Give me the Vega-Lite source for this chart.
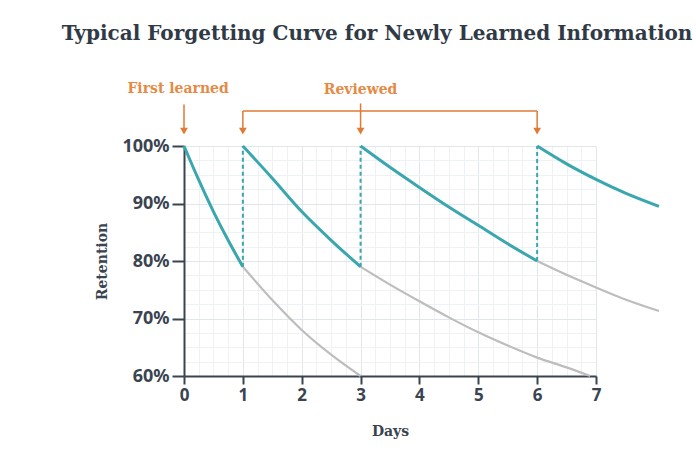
{
  "$schema": "https://vega.github.io/schema/vega-lite/v6.json",
  "width": 412,
  "height": 230,
  "autosize": {"type": "none"},
  "padding": {"left": 184, "top": 146, "right": 100, "bottom": 81},
  "background": "#ffffff",
  "title": {
    "text": "Typical Forgetting Curve for Newly Learned Information",
    "font": "DejaVu Serif",
    "fontSize": 20,
    "fontWeight": "bold",
    "color": "#303a47",
    "anchor": "middle",
    "frame": "group",
    "dx": -13,
    "offset": 38
  },
  "config": {
    "view": {"stroke": null},
    "axis": {"labelFont": "Noto Sans", "titleFont": "DejaVu Serif", "labelFlush": false}
  },
  "datasets": {
    "curves": [
      {"seg": "A", "kind": "teal", "t": 0, "r": 100},
      {"seg": "A", "kind": "teal", "t": 0.25, "r": 94.1},
      {"seg": "A", "kind": "teal", "t": 0.5, "r": 88.6},
      {"seg": "A", "kind": "teal", "t": 0.75, "r": 83.6},
      {"seg": "A", "kind": "teal", "t": 1, "r": 79},
      {"seg": "GA", "kind": "grey", "t": 1, "r": 79},
      {"seg": "GA", "kind": "grey", "t": 1.5, "r": 73.2},
      {"seg": "GA", "kind": "grey", "t": 2, "r": 68},
      {"seg": "GA", "kind": "grey", "t": 2.5, "r": 63.7},
      {"seg": "GA", "kind": "grey", "t": 3, "r": 60},
      {"seg": "B", "kind": "teal", "t": 1, "r": 100},
      {"seg": "B", "kind": "teal", "t": 1.5, "r": 94.4},
      {"seg": "B", "kind": "teal", "t": 2, "r": 88.6},
      {"seg": "B", "kind": "teal", "t": 2.5, "r": 83.6},
      {"seg": "B", "kind": "teal", "t": 3, "r": 79},
      {"seg": "GB", "kind": "grey", "t": 3, "r": 79},
      {"seg": "GB", "kind": "grey", "t": 3.5, "r": 75.9},
      {"seg": "GB", "kind": "grey", "t": 4, "r": 73},
      {"seg": "GB", "kind": "grey", "t": 4.5, "r": 70.2},
      {"seg": "GB", "kind": "grey", "t": 5, "r": 67.6},
      {"seg": "GB", "kind": "grey", "t": 5.5, "r": 65.3},
      {"seg": "GB", "kind": "grey", "t": 6, "r": 63.2},
      {"seg": "GB", "kind": "grey", "t": 6.5, "r": 61.5},
      {"seg": "GB", "kind": "grey", "t": 6.9, "r": 60},
      {"seg": "C", "kind": "teal", "t": 3, "r": 100},
      {"seg": "C", "kind": "teal", "t": 3.5, "r": 96.3},
      {"seg": "C", "kind": "teal", "t": 4, "r": 92.8},
      {"seg": "C", "kind": "teal", "t": 4.5, "r": 89.4},
      {"seg": "C", "kind": "teal", "t": 5, "r": 86.2},
      {"seg": "C", "kind": "teal", "t": 5.5, "r": 83.0},
      {"seg": "C", "kind": "teal", "t": 6, "r": 80},
      {"seg": "GC", "kind": "grey", "t": 6, "r": 80},
      {"seg": "GC", "kind": "grey", "t": 6.5, "r": 77.6},
      {"seg": "GC", "kind": "grey", "t": 7, "r": 75.4},
      {"seg": "GC", "kind": "grey", "t": 7.5, "r": 73.3},
      {"seg": "GC", "kind": "grey", "t": 8.07, "r": 71.3},
      {"seg": "D", "kind": "teal", "t": 6, "r": 100},
      {"seg": "D", "kind": "teal", "t": 6.5, "r": 96.9},
      {"seg": "D", "kind": "teal", "t": 7, "r": 94.2},
      {"seg": "D", "kind": "teal", "t": 7.5, "r": 91.8},
      {"seg": "D", "kind": "teal", "t": 8.07, "r": 89.5}
    ],
    "dashes": [
      {"t": 1, "r": 79, "r2": 100},
      {"t": 3, "r": 79, "r2": 100},
      {"t": 6, "r": 80, "r2": 100}
    ],
    "shafts": [
      {"t": 0, "r": 102.6, "r2": 107.2},
      {"t": 1, "r": 102.6, "r2": 106.1},
      {"t": 3, "r": 102.6, "r2": 107.4},
      {"t": 6, "r": 102.6, "r2": 106.1}
    ],
    "bracket": [
      {"t": 1, "t2": 6, "r": 106.1}
    ],
    "heads": [
      {"t": 0, "r": 102.6},
      {"t": 1, "r": 102.6},
      {"t": 3, "r": 102.6},
      {"t": 6, "r": 102.6}
    ],
    "labels": [
      {"t": -0.1, "r": 110, "text": "First learned"},
      {"t": 3, "r": 109.7, "text": "Reviewed"}
    ]
  },
  "encoding": {
    "x": {
      "field": "t",
      "type": "quantitative",
      "scale": {"domain": [0, 7], "nice": false, "zero": false},
      "axis": {
        "title": "Days",
        "titleFontSize": 14,
        "titleFontWeight": "bold",
        "titleColor": "#3a4350",
        "titlePadding": 21,
        "values": [0, 0.25, 0.5, 0.75, 1, 1.25, 1.5, 1.75, 2, 2.25, 2.5, 2.75, 3, 3.25, 3.5, 3.75, 4, 4.25, 4.5, 4.75, 5, 5.25, 5.5, 5.75, 6, 6.25, 6.5, 6.75, 7],
        "labelExpr": "datum.value % 1 === 0 ? format(datum.value, 'd') : ''",
        "labelFontSize": 17,
        "labelFontWeight": "bold",
        "labelColor": "#3a4350",
        "labelPadding": 3,
        "labelOverlap": false,
        "labelFlush": false,
        "domainColor": "#3a4350",
        "domainWidth": 2,
        "tickColor": "#3a4350",
        "tickWidth": 2,
        "tickSize": {"condition": {"test": "datum.value % 1 === 0", "value": 8}, "value": 0},
        "grid": true,
        "gridColor": {"condition": {"test": "datum.value % 1 === 0", "value": "#e0e6ea"}, "value": "#eef2f4"},
        "gridWidth": 1
      }
    },
    "y": {
      "field": "r",
      "type": "quantitative",
      "scale": {"domain": [60, 100], "nice": false, "zero": false},
      "axis": {
        "title": "Retention",
        "titleFontSize": 14,
        "titleFontWeight": "bold",
        "titleColor": "#3a4350",
        "titlePadding": 12,
        "values": [60, 62.5, 65, 67.5, 70, 72.5, 75, 77.5, 80, 82.5, 85, 87.5, 90, 92.5, 95, 97.5, 100],
        "labelExpr": "datum.value % 10 === 0 ? datum.value + '%' : ''",
        "labelFontSize": 18,
        "labelFontWeight": "bold",
        "labelColor": "#3a4350",
        "labelPadding": 3,
        "labelOverlap": false,
        "labelFlush": false,
        "domainColor": "#3a4350",
        "domainWidth": 2,
        "tickColor": "#3a4350",
        "tickWidth": 2,
        "tickSize": {"condition": {"test": "datum.value % 10 === 0", "value": 12}, "value": 0},
        "grid": true,
        "gridColor": {"condition": {"test": "datum.value % 10 === 0", "value": "#e0e6ea"}, "value": "#eef2f4"},
        "gridWidth": 1
      }
    }
  },
  "layer": [
    {
      "data": {"name": "curves"},
      "transform": [{"filter": "datum.kind === 'grey'"}],
      "mark": {"type": "line", "color": "#bdbdbd", "strokeWidth": 2.2, "interpolate": "monotone"},
      "encoding": {"detail": {"field": "seg"}}
    },
    {
      "data": {"name": "dashes"},
      "mark": {"type": "rule", "color": "#3aa6ad", "strokeWidth": 2, "strokeDash": [4, 3]},
      "encoding": {"y2": {"field": "r2"}}
    },
    {
      "data": {"name": "curves"},
      "transform": [{"filter": "datum.kind === 'teal'"}],
      "mark": {"type": "line", "color": "#3aa6ad", "strokeWidth": 3, "interpolate": "monotone"},
      "encoding": {"detail": {"field": "seg"}}
    },
    {
      "data": {"name": "shafts"},
      "mark": {"type": "rule", "color": "#e07a35", "strokeWidth": 1.5},
      "encoding": {"y2": {"field": "r2"}}
    },
    {
      "data": {"name": "bracket"},
      "mark": {"type": "rule", "color": "#e07a35", "strokeWidth": 1.5},
      "encoding": {"x2": {"field": "t2"}}
    },
    {
      "data": {"name": "heads"},
      "mark": {"type": "point", "shape": "triangle-down", "filled": true, "color": "#e07a35", "size": 60, "opacity": 1},
      "encoding": {}
    },
    {
      "data": {"name": "labels"},
      "mark": {"type": "text", "color": "#e58a45", "font": "DejaVu Serif", "fontWeight": "bold", "fontSize": 14, "align": "center", "baseline": "middle"},
      "encoding": {"text": {"field": "text"}}
    }
  ]
}
